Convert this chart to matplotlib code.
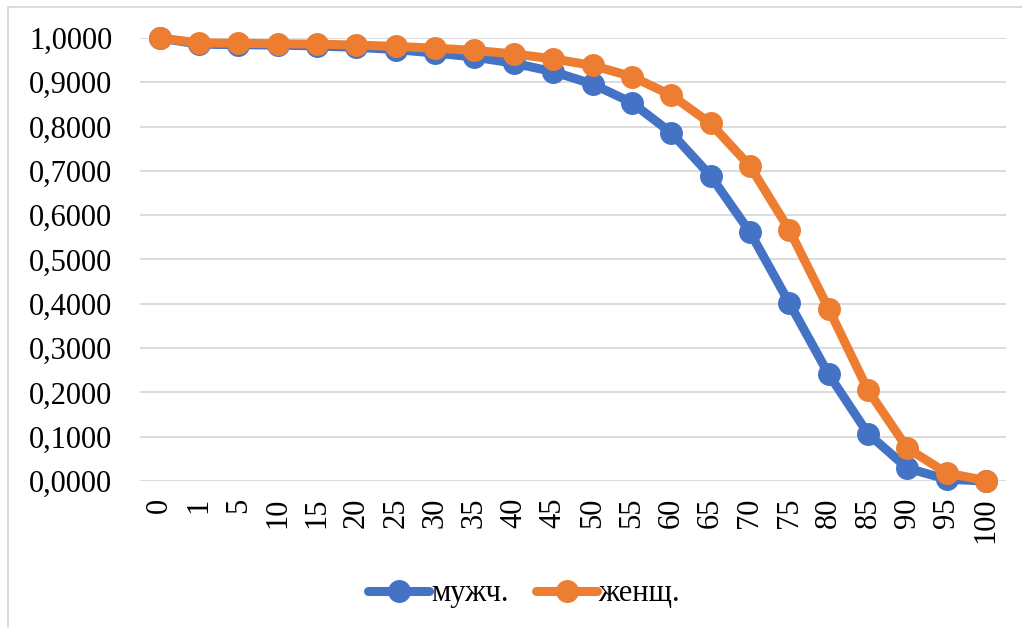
import matplotlib
matplotlib.use("Agg")
import matplotlib.pyplot as plt
from matplotlib.lines import Line2D
from matplotlib.ticker import FuncFormatter, MultipleLocator

categories = ["0", "1", "5", "10", "15", "20", "25", "30", "35", "40", "45",
              "50", "55", "60", "65", "70", "75", "80", "85", "90", "95", "100"]
male = [1.0000, 0.9860, 0.9850, 0.9840, 0.9820, 0.9790, 0.9740, 0.9660, 0.9570,
        0.9430, 0.9240, 0.8960, 0.8540, 0.7860, 0.6890, 0.5620, 0.4020, 0.2410,
        0.1070, 0.0290, 0.0040, 0.0000]
female = [1.0000, 0.9890, 0.9880, 0.9870, 0.9860, 0.9840, 0.9810, 0.9770, 0.9720,
          0.9640, 0.9530, 0.9380, 0.9130, 0.8710, 0.8070, 0.7110, 0.5670, 0.3890,
          0.2050, 0.0740, 0.0180, 0.0010]
series_names = ["мужч.", "женщ."]
colors = ["#4472C4", "#ED7D31"]

plt.rcParams['font.family'] = ['Liberation Serif', 'DejaVu Serif']

fig = plt.figure(figsize=(10.22, 6.28), dpi=100)
ax = fig.add_axes([140 / 1022, 1 - 481 / 628, (1005.7 - 140) / 1022, (481 - 38) / 628])

x = list(range(len(categories)))
for vals, c in zip([male, female], colors):
    ax.plot(x, vals, color=c, lw=6.5, marker='o', ms=15.5, mfc=c, mec=c,
            solid_capstyle='round', solid_joinstyle='round', zorder=3, clip_on=False)

ax.set_xlim(-0.5, len(categories) - 0.5)
ax.set_ylim(0, 1.0)
ax.yaxis.set_major_locator(MultipleLocator(0.1))
ax.yaxis.set_major_formatter(FuncFormatter(lambda v, p: f"{v:.4f}".replace('.', ',')))
ax.set_xticks(x)
ax.set_xticklabels(categories, rotation=90, va='top', ha='center')
ax.tick_params(axis='y', length=0, pad=20, labelsize=22)
ax.tick_params(axis='x', length=0, pad=12, labelsize=22)
ax.grid(axis='y', color='#D9D9D9', lw=1.3, zorder=0)
ax.set_axisbelow(True)
for s in ax.spines.values():
    s.set_visible(False)

handles = [Line2D([], [], color=c, lw=6.5, marker='o', ms=15.5, solid_capstyle='round')
           for c in colors]
fig.legend(handles, series_names, loc='center', bbox_to_anchor=(0.513, 1 - 594 / 628),
           ncol=2, frameon=False, fontsize=22, handlelength=2.0, handletextpad=0.05,
           columnspacing=0.9)

# outer chart frame (cut off on the right and bottom)
fig.add_artist(Line2D([7.5 / 1022, 7.5 / 1022], [0, 1 - 7 / 628], color='#D9D9D9', lw=1.3,
                      transform=fig.transFigure))
fig.add_artist(Line2D([7.5 / 1022, 1], [1 - 7 / 628, 1 - 7 / 628], color='#D9D9D9', lw=1.3,
                      transform=fig.transFigure))

fig.savefig("out.png", dpi=100, facecolor='white')
